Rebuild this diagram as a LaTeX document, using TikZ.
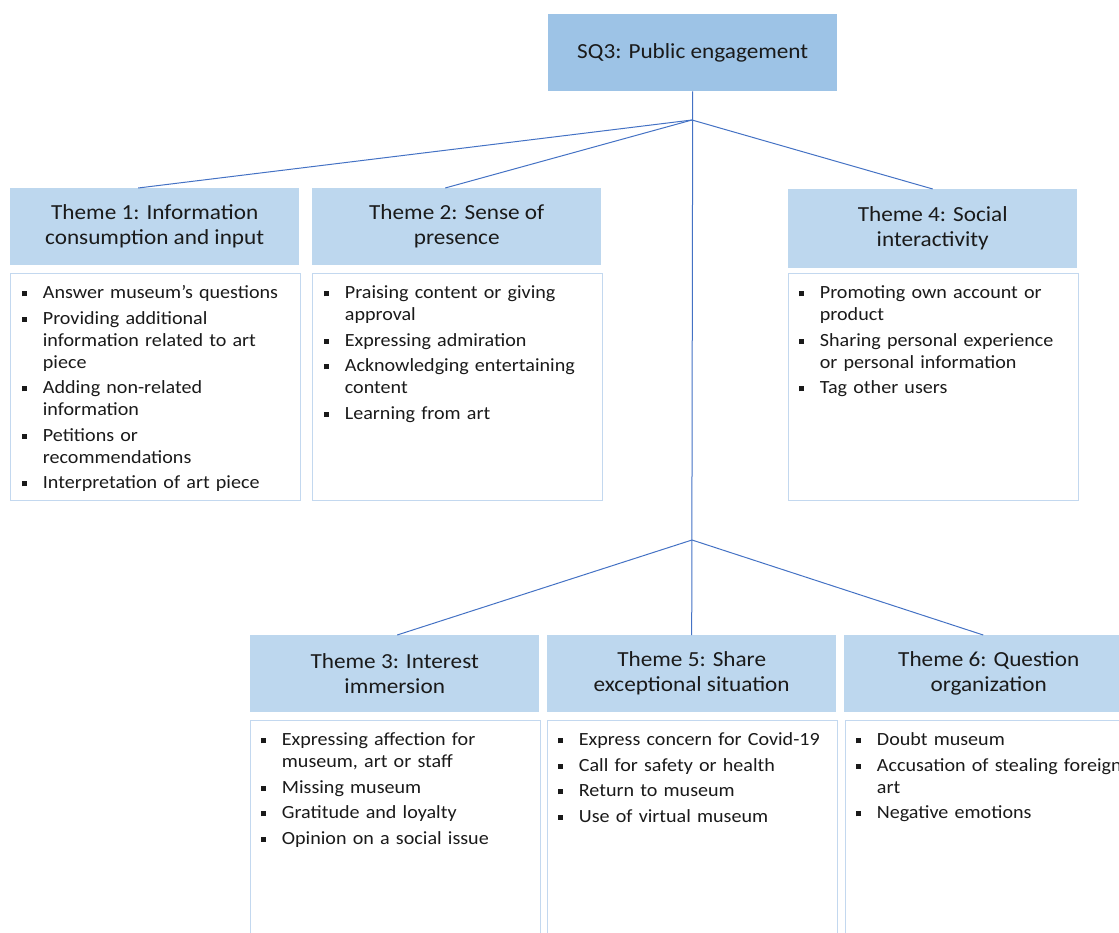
\documentclass[tikz,border=0pt]{standalone}
\usepackage{fontspec}
\setmainfont{Carlito}[FakeStretch=1.08]
\definecolor{topblue}{HTML}{9DC3E6}
\definecolor{hdrblue}{HTML}{BDD7EE}
\definecolor{edgeblue}{HTML}{C3D8EF}
\definecolor{linkblue}{HTML}{4472C4}
\definecolor{ink}{HTML}{1A1A1A}
% one bulleted entry: square bullet, hanging indent, small gap after
\newcommand\bitem[1]{\par\noindent\hangindent=20.7pt\hangafter=1\strut\makebox[20.7pt][l]{\raisebox{2.2pt}{\rule{5pt}{5pt}}}#1\par\vspace{3.5pt}}
\tikzset{
  hdr/.style={fill=hdrblue, draw=none, minimum width=289pt, minimum height=77pt,
    anchor=north west, inner sep=0pt, align=center, text=ink,
    font=\fontsize{21.5}{25}\selectfont},
  rootbox/.style={hdr, fill=topblue},
  listbox/.style={draw=edgeblue, line width=1.4pt, fill=white, anchor=north west,
    minimum width=290pt, inner sep=0pt},
  items/.style={anchor=north west, inner sep=0pt, text width=300pt,
    text=ink, font=\fontsize{18.6}{22}\selectfont},
  link/.style={draw=linkblue, line width=1pt}
}
\begin{document}
\begin{tikzpicture}[x=1pt,y=-1pt]
\useasboundingbox (0,0) rectangle (1119,933);
\clip (0,0) rectangle (1119,933);

% root
\node[rootbox] (sq) at (548,14) {SQ3: Public engagement};

% theme headers
\node[hdr] (t1) at (10,188) {Theme 1: Information\\consumption and input};
\node[hdr] (t2) at (312,188) {Theme 2: Sense of\\presence};
\node[hdr, minimum height=79pt] (t4) at (788,189) {Theme 4: Social\\interactivity};
\node[hdr] (t3) at (250,635) {Theme 3: Interest\\immersion};
\node[hdr] (t5) at (547,635) {Theme 5: Share\\exceptional situation};
\node[hdr] (t6) at (844,635) {Theme 6: Question\\organization};

% list frames
\node[listbox, minimum height=227pt] (l1) at (10,273) {};
\node[listbox, minimum height=227pt] (l2) at (312,273) {};
\node[listbox, minimum height=227pt] (l4) at (788,273) {};
\node[listbox, minimum height=240pt] (l3) at (250,720) {};
\node[listbox, minimum height=240pt] (l5) at (547,720) {};
\node[listbox, minimum height=240pt] (l6) at (845,720) {};

% list contents
\node[items] (i1) at ([xshift=12pt,yshift=-3.4pt]l1.north west) {%
  \bitem{Answer museum’s questions}
  \bitem{Providing additional\newline information related to art\newline piece}
  \bitem{Adding non-related\newline information}
  \bitem{Petitions or\newline recommendations}
  \bitem{Interpretation of art piece}};
\node[items] (i2) at ([xshift=12pt,yshift=-3.4pt]l2.north west) {%
  \bitem{Praising content or giving\newline approval}
  \bitem{Expressing admiration}
  \bitem{Acknowledging entertaining\newline content}
  \bitem{Learning from art}};
\node[items] (i4) at ([xshift=11pt,yshift=-3.4pt]l4.north west) {%
  \bitem{Promoting own account or\newline product}
  \bitem{Sharing personal experience\newline or personal information}
  \bitem{Tag other users}};
\node[items] (i3) at ([xshift=11pt,yshift=-3.4pt]l3.north west) {%
  \bitem{Expressing affection for\newline museum, art or staff}
  \bitem{Missing museum}
  \bitem{Gratitude and loyalty}
  \bitem{Opinion on a social issue}};
\node[items] (i5) at ([xshift=11pt,yshift=-3.4pt]l5.north west) {%
  \bitem{Express concern for Covid-19}
  \bitem{Call for safety or health}
  \bitem{Return to museum}
  \bitem{Use of virtual museum}};
\node[items] (i6) at ([xshift=11pt,yshift=-3.4pt]l6.north west) {%
  \bitem{Doubt museum}
  \bitem{Accusation of stealing foreign\newline art}
  \bitem{Negative emotions}};

% connectors
\coordinate (j1) at (692,120);
\coordinate (j2) at (692,540);
\draw[link] (sq.south) -- (t5.north);
\draw[link] (j1) -- ([xshift=-16.5pt]t1.north);
\draw[link] (j1) -- ([xshift=-11.5pt]t2.north);
\draw[link] (j1) -- (t4.north);
\draw[link] (j2) -- ([xshift=2.5pt]t3.north);
\draw[link] (j2) -- ([xshift=-5.5pt]t6.north);
\end{tikzpicture}
\end{document}
